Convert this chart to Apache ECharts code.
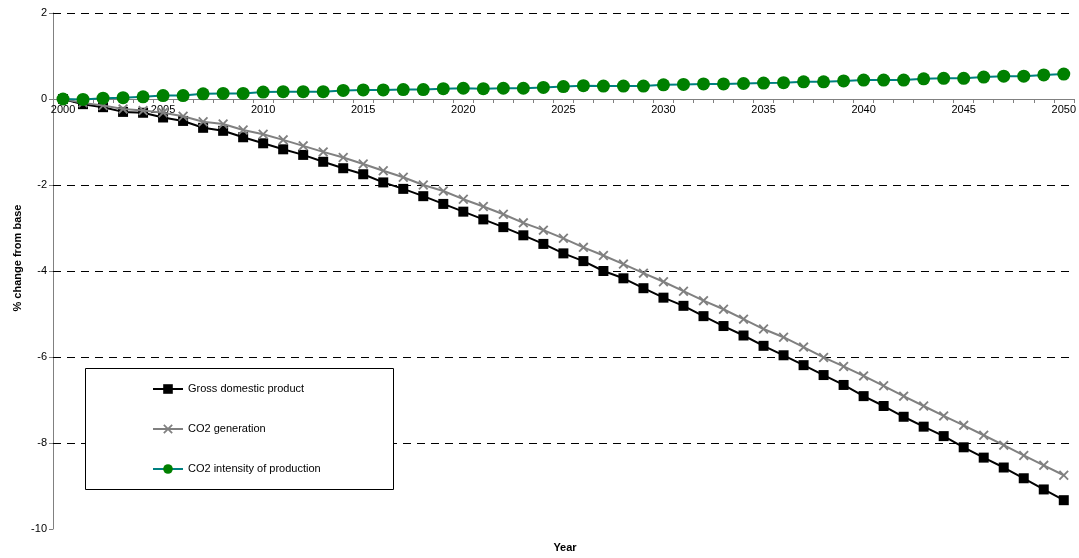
<!DOCTYPE html>
<html>
<head>
<meta charset="utf-8">
<script src="https://cdn.jsdelivr.net/npm/echarts@6/dist/echarts.min.js"></script>
<style>
  html, body { margin: 0; padding: 0; background: #fff; }
  #chart { width: 1079px; height: 558px; }
</style>
</head>
<body>
<div id="chart"></div>
<script>
var years = ['2000','2001','2002','2003','2004','2005','2006','2007','2008','2009',
  '2010','2011','2012','2013','2014','2015','2016','2017','2018','2019',
  '2020','2021','2022','2023','2024','2025','2026','2027','2028','2029',
  '2030','2031','2032','2033','2034','2035','2036','2037','2038','2039',
  '2040','2041','2042','2043','2044','2045','2046','2047','2048','2049','2050'];

var gdp = [0, -0.12, -0.19, -0.30, -0.32, -0.43, -0.51, -0.67, -0.74, -0.89, -1.03,
  -1.17, -1.30, -1.46, -1.61, -1.75, -1.94, -2.09, -2.26, -2.44, -2.62,
  -2.80, -2.98, -3.17, -3.37, -3.59, -3.77, -4.00, -4.17, -4.40, -4.62,
  -4.81, -5.05, -5.28, -5.50, -5.74, -5.96, -6.19, -6.42, -6.65, -6.91,
  -7.14, -7.39, -7.62, -7.84, -8.10, -8.34, -8.57, -8.82, -9.08, -9.33];

var co2Generation = [0, -0.09, -0.15, -0.23, -0.27, -0.32, -0.40, -0.53, -0.58, -0.72, -0.82,
  -0.95, -1.09, -1.23, -1.36, -1.51, -1.67, -1.82, -2.00, -2.14, -2.33,
  -2.50, -2.68, -2.88, -3.05, -3.24, -3.45, -3.64, -3.84, -4.05, -4.25,
  -4.47, -4.69, -4.89, -5.12, -5.35, -5.54, -5.77, -6.01, -6.22, -6.44,
  -6.67, -6.91, -7.14, -7.37, -7.59, -7.82, -8.05, -8.29, -8.52, -8.75];

var co2Intensity = [0, -0.01, 0.02, 0.03, 0.05, 0.08, 0.08, 0.12, 0.13, 0.13, 0.16,
  0.17, 0.17, 0.17, 0.20, 0.21, 0.21, 0.22, 0.22, 0.24, 0.25,
  0.24, 0.25, 0.25, 0.27, 0.29, 0.31, 0.30, 0.30, 0.30, 0.33,
  0.34, 0.35, 0.35, 0.36, 0.37, 0.38, 0.40, 0.40, 0.42, 0.44,
  0.44, 0.44, 0.47, 0.48, 0.48, 0.51, 0.53, 0.53, 0.56, 0.58];

var seriesNames = ['Gross domestic product', 'CO2 generation', 'CO2 intensity of production'];
var gridValues = [2, -2, -4, -6, -8];
var yAxisTitle = '% change from base';
var xAxisTitle = 'Year';

var FONT = 'Liberation Sans, Arial, sans-serif';
var xSymbol = 'path://M0,1.3 L1.3,0 L5,3.7 L8.7,0 L10,1.3 L6.3,5 L10,8.7 L8.7,10 L5,6.3 L1.3,10 L0,8.7 L3.7,5 Z';

var GRID_TOP = 13, GRID_BOTTOM = 29, CHART_H = 558;
var Y_MIN = -10, Y_MAX = 2;
// shift x axis up so it sits on the zero line (labels included)
var plotH = CHART_H - GRID_TOP - GRID_BOTTOM;
var zeroOffset = -plotH * (0 - Y_MIN) / (Y_MAX - Y_MIN);

var chart = echarts.init(document.getElementById('chart'), null, { renderer: 'canvas' });

chart.setOption({
  animation: false,
  backgroundColor: '#ffffff',
  textStyle: { fontFamily: FONT },
  grid: { left: 53, right: 4, top: GRID_TOP, bottom: GRID_BOTTOM, containLabel: false },
  legend: {
    orient: 'vertical',
    left: 152,
    top: 382,
    padding: 0,
    itemWidth: 30,
    itemHeight: 12,
    itemGap: 26,
    z: 20,
    selectedMode: false,
    textStyle: { fontFamily: FONT, fontSize: 11, color: '#000', lineHeight: 14 },
    data: seriesNames
  },
  graphic: [
    {
      type: 'rect',
      z: 10,
      shape: { x: 85.5, y: 368.5, width: 308, height: 121 },
      style: { fill: '#ffffff', stroke: '#000000', lineWidth: 1 }
    },
    {
      type: 'text',
      z: 10,
      x: 565,
      y: 548,
      style: {
        text: xAxisTitle,
        fontFamily: FONT,
        fontSize: 11,
        fontWeight: 'bold',
        fill: '#000',
        textAlign: 'center',
        textVerticalAlign: 'middle'
      }
    }
  ],
  xAxis: {
    type: 'category',
    data: years,
    boundaryGap: true,
    offset: zeroOffset,
    z: 0,
    axisLine: { onZero: false, lineStyle: { color: '#808080', width: 1 } },
    axisTick: { show: true, interval: 0, length: 4, lineStyle: { color: '#808080' } },
    axisLabel: { interval: 4, margin: 5, fontSize: 11, color: '#000', fontFamily: FONT },
    splitLine: { show: false }
  },
  yAxis: {
    type: 'value',
    min: Y_MIN,
    max: Y_MAX,
    interval: 2,
    name: yAxisTitle,
    nameLocation: 'middle',
    nameGap: 30,
    nameMoveOverlap: false,
    nameRotate: 90,
    nameTextStyle: { fontSize: 11, fontWeight: 'bold', color: '#000', fontFamily: FONT, padding: [0, 0, 0, 26] },
    axisLine: { show: true, lineStyle: { color: '#808080', width: 1 } },
    axisTick: { show: true, length: 4, lineStyle: { color: '#808080' } },
    axisLabel: { margin: 6, fontSize: 11, color: '#000', fontFamily: FONT },
    splitLine: { show: false }
  },
  series: [
    {
      name: seriesNames[0],
      type: 'line',
      data: gdp,
      symbol: 'rect',
      symbolSize: 10,
      showAllSymbol: true,
      z: 3,
      lineStyle: { color: '#000000', width: 2 },
      itemStyle: { color: '#000000' },
      markLine: {
        silent: true,
        symbol: 'none',
        label: { show: false },
        z: 1,
        lineStyle: { color: '#000000', width: 1, type: [8, 6] },
        data: gridValues.map(function (v) { return { yAxis: v }; })
      }
    },
    {
      name: seriesNames[1],
      type: 'line',
      data: co2Generation,
      symbol: xSymbol,
      symbolSize: 10,
      showAllSymbol: true,
      z: 4,
      lineStyle: { color: '#808080', width: 2 },
      itemStyle: { color: '#808080' }
    },
    {
      name: seriesNames[2],
      type: 'line',
      data: co2Intensity,
      symbol: 'circle',
      symbolSize: 13,
      showAllSymbol: true,
      z: 5,
      lineStyle: { color: '#008080', width: 2 },
      itemStyle: { color: '#008000' }
    }
  ]
});
</script>
</body>
</html>
